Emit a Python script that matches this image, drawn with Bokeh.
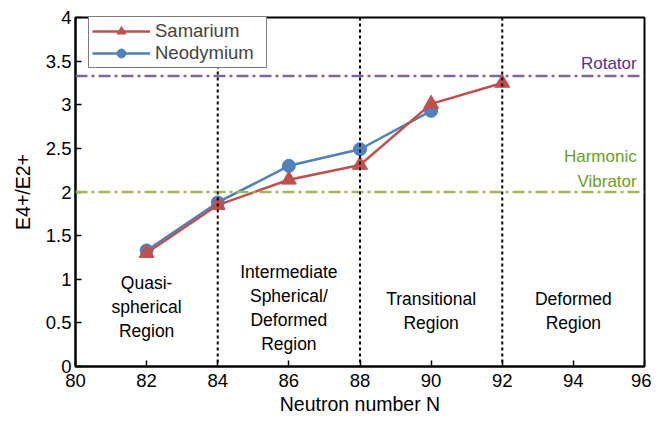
from bokeh.plotting import figure
from bokeh.models import Legend, LegendItem, Span, Range1d, FixedTicker
from bokeh.core.properties import value
from bokeh.embed import file_html
from bokeh.resources import INLINE

# Data
N_sm = [82, 84, 86, 88, 90, 92]
ratio_sm = [1.30, 1.85, 2.14, 2.31, 3.01, 3.25]
N_nd = [82, 84, 86, 88, 90]
ratio_nd = [1.33, 1.88, 2.30, 2.49, 2.93]
boundaries = [84, 88, 92]
rotator_level = 3.33
vibrator_level = 2.0
region_x = [82, 86, 90, 94]
region_y = [0.68, 0.67, 0.64, 0.64]
region_labels = ["Quasi-\nspherical\nRegion",
                 "Intermediate\nSpherical/\nDeformed\nRegion",
                 "Transitional\nRegion",
                 "Deformed\nRegion"]
x_ticks = [80, 82, 84, 86, 88, 90, 92, 94, 96]
y_ticks = [0, 0.5, 1, 1.5, 2, 2.5, 3, 3.5, 4]

FONT = "Liberation Sans"
RED = "#c0504d"
BLUE = "#4f81bd"
PURPLE_L = "#8064a2"
GREEN_L = "#9bbb59"

p = figure(width=651, height=418, output_backend="svg", toolbar_location=None,
           x_range=Range1d(80, 96), y_range=Range1d(0, 4),
           min_border_left=75, min_border_right=7, min_border_top=17, min_border_bottom=52)
p.grid.visible = False
p.outline_line_color = "black"
p.outline_line_width = 2
p.background_fill_color = "white"
p.border_fill_color = "white"

for ax in (p.xaxis[0], p.yaxis[0]):
    ax.axis_line_width = 2
    ax.axis_line_color = "black"
    ax.major_tick_in = 6
    ax.major_tick_out = 0
    ax.minor_tick_in = 0
    ax.minor_tick_out = 0
    ax.major_tick_line_width = 1.5
    ax.major_label_text_font = FONT
    ax.major_label_text_font_size = "18.5px"
    ax.major_label_text_color = "black"
    ax.axis_label_text_font = FONT
    ax.axis_label_text_font_size = "19.5px"
    ax.axis_label_text_font_style = "normal"
    ax.axis_label_text_color = "black"

p.xaxis.ticker = FixedTicker(ticks=x_ticks)
p.yaxis.ticker = FixedTicker(ticks=y_ticks)
p.xaxis.major_label_overrides = {t: str(t) for t in x_ticks}
p.yaxis.major_label_overrides = {0: "0", 0.5: "0.5", 1: "1", 1.5: "1.5", 2: "2",
                                 2.5: "2.5", 3: "3", 3.5: "3.5", 4: "4"}
p.xaxis.axis_label = "Neutron number N"
p.yaxis.axis_label = "E4+/E2+"
p.xaxis.major_label_standoff = 7
p.yaxis.major_label_standoff = 4
p.xaxis.axis_label_standoff = 3
p.yaxis.axis_label_standoff = 9

# reference lines
p.add_layout(Span(location=rotator_level, dimension="width", line_color=PURPLE_L,
                  line_width=2.5, line_dash="12 4 3 4"))
p.add_layout(Span(location=vibrator_level, dimension="width", line_color=GREEN_L,
                  line_width=2.5, line_dash="12 4 3 4"))
for b in boundaries:
    p.add_layout(Span(location=b, dimension="height", line_color="black",
                      line_width=2, line_dash="3 3"))

# region texts
p.text(x=region_x, y=region_y, text=region_labels, text_align="center",
       text_baseline="middle", text_font=value(FONT), text_font_size="17.5px",
       text_color="black", text_line_height=1.2)

p.text(x=[95.78], y=[3.47], text=["Rotator"], text_align="right",
       text_baseline="middle", text_font=value(FONT), text_font_size="17px",
       text_color="#5a2ea6")
p.text(x=[95.78], y=[2.26], text=["Harmonic\nVibrator"], text_align="right",
       text_baseline="middle", text_font=value(FONT), text_font_size="17px",
       text_color="#6aa121", text_line_height=1.3)

# series
l_nd = p.line(N_nd, ratio_nd, line_color=BLUE, line_width=2.5)
s_nd = p.scatter(N_nd, ratio_nd, marker="circle", size=13, fill_color=BLUE, line_color=BLUE)
l_sm = p.line(N_sm, ratio_sm, line_color=RED, line_width=2.5)
s_sm = p.scatter(N_sm, ratio_sm, marker="triangle", size=15, fill_color=RED, line_color=RED)

legend = Legend(items=[LegendItem(label="Samarium", renderers=[l_sm, s_sm]),
                       LegendItem(label="Neodymium", renderers=[l_nd, s_nd])],
                location=(13, 298))
legend.glyph_width = 58
legend.glyph_height = 22
legend.label_height = 22
legend.label_width = 108
legend.label_text_font = FONT
legend.label_text_font_size = "18.5px"
legend.label_standoff = 5
legend.padding = 3
legend.spacing = 0
legend.margin = 0
legend.border_line_color = "black"
legend.border_line_width = 1.5
legend.background_fill_alpha = 1
p.add_layout(legend, "center")

open("out.html", "w").write(file_html(p, INLINE))
